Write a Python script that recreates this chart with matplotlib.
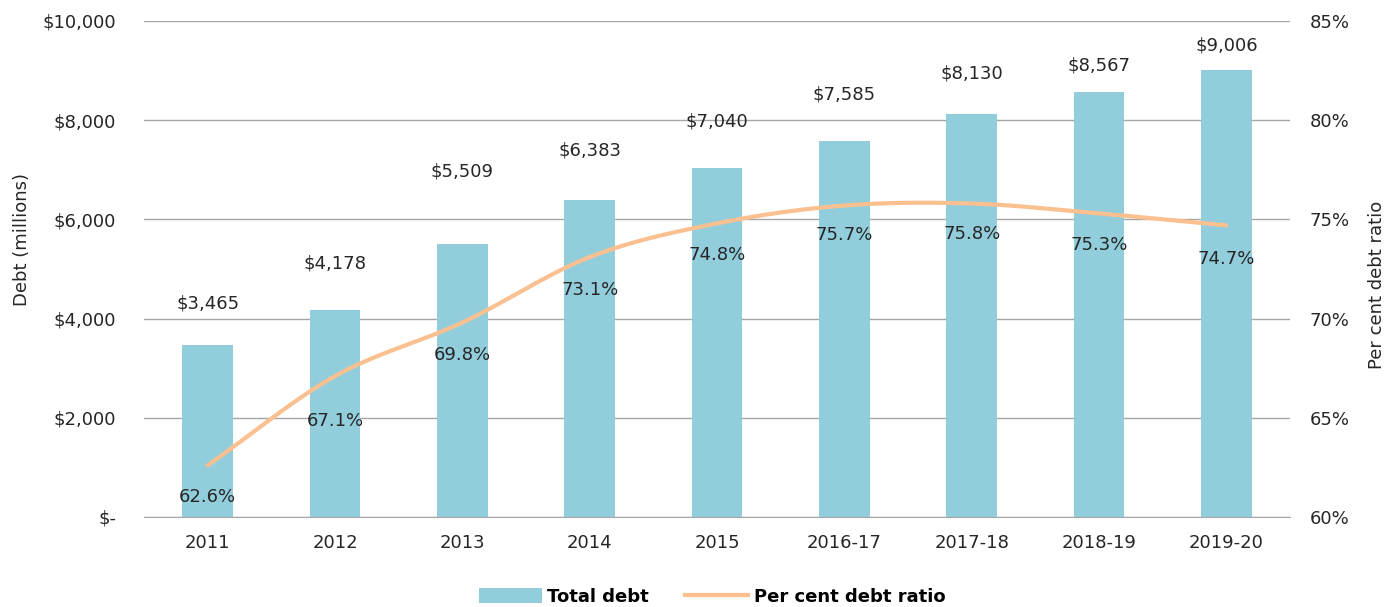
import matplotlib
matplotlib.use("Agg")
import matplotlib.pyplot as plt
import numpy as np
from matplotlib.patches import Patch
from matplotlib.lines import Line2D

plt.rcParams['font.family'] = ['DejaVu Sans']

categories = ["2011", "2012", "2013", "2014", "2015", "2016-17", "2017-18", "2018-19", "2019-20"]
total_debt = [3465, 4178, 5509, 6383, 7040, 7585, 8130, 8567, 9006]
debt_ratio = [62.6, 67.1, 69.8, 73.1, 74.8, 75.7, 75.8, 75.3, 74.7]

# label layout offsets (points)
bar_label_off = [30, 33, 52, 36, 33, 33, 29, 19, 18]
ratio_label_off = [-23, -32, -23, -24, -23, -21, -22, -23, -24]

bar_color = "#92CDDC"
line_color = "#FAC090"
text_color = "#262626"
grid_color = "#A6A6A6"
FS = 13

fig = plt.figure(figsize=(13.89, 6.07), dpi=100)
ax = fig.add_axes([144/1389, 1-517/607, (1290-144)/1389, (517-21)/607])
ax2 = ax.twinx()

x = np.arange(len(categories))
ax.bar(x, total_debt, width=0.4, color=bar_color, zorder=2)
ax.set_xlim(-0.5, len(categories)-0.5)
ax.set_ylim(0, 10000)
ax.set_yticks(np.arange(0, 10001, 2000))
ax.set_yticklabels(["$-" if v == 0 else "${:,}".format(v) for v in range(0, 10001, 2000)])
ax.set_xticks(x)
ax.set_xticklabels(categories)
ax.grid(axis='y', color=grid_color, linewidth=1, zorder=0)
ax.set_axisbelow(True)
for s in ['top', 'right', 'left']:
    ax.spines[s].set_visible(False)
ax.spines['bottom'].set_color(grid_color)
ax.tick_params(axis='both', length=0, labelsize=FS, colors=text_color)
ax.tick_params(axis='y', pad=20)
ax.tick_params(axis='x', pad=12)
ax.set_ylabel("Debt (millions)", fontsize=FS, color=text_color, va='center')
ax.yaxis.set_label_coords(-(144-22)/1146, (517-240)/496)

for xi, v, off in zip(x, total_debt, bar_label_off):
    ax.annotate("${:,}".format(v), (xi, v), xytext=(0, off), textcoords='offset points',
                ha='center', va='center', fontsize=FS, color=text_color)

# smoothed line (Catmull-Rom through the data points)
def catmull(xs, ys, n=30):
    xs = np.asarray(xs, float); ys = np.asarray(ys, float)
    px = np.concatenate([[2*xs[0]-xs[1]], xs, [2*xs[-1]-xs[-2]]])
    py = np.concatenate([[2*ys[0]-ys[1]], ys, [2*ys[-1]-ys[-2]]])
    ox, oy = [], []
    for i in range(1, len(px)-2):
        t = np.linspace(0, 1, n, endpoint=False)
        for arr, out in ((px, ox), (py, oy)):
            p0, p1, p2, p3 = arr[i-1], arr[i], arr[i+1], arr[i+2]
            out.extend(0.5*((2*p1) + (-p0+p2)*t + (2*p0-5*p1+4*p2-p3)*t**2 + (-p0+3*p1-3*p2+p3)*t**3))
    ox.append(xs[-1]); oy.append(ys[-1])
    return np.array(ox), np.array(oy)

sx, sy = catmull(x, debt_ratio)
ax2.plot(sx, sy, color=line_color, linewidth=3, solid_capstyle='round', zorder=3)
ax2.set_ylim(60, 85)
ax2.set_yticks(np.arange(60, 86, 5))
ax2.set_yticklabels(["{}%".format(v) for v in range(60, 86, 5)])
for s in ax2.spines.values():
    s.set_visible(False)
ax2.tick_params(axis='y', length=0, labelsize=FS, colors=text_color, pad=14)
ax2.set_ylabel("Per cent debt ratio", fontsize=FS, color=text_color, va='center')
ax2.yaxis.set_label_coords(1 + (1377-1290)/1146, (517-285)/496)

for xi, v, off in zip(x, debt_ratio, ratio_label_off):
    ax2.annotate("{:.1f}%".format(v), (xi, v), xytext=(0, off), textcoords='offset points',
                 ha='center', va='center', fontsize=FS, color=text_color)

handles = [Patch(facecolor=bar_color, edgecolor='none'),
           Line2D([0], [0], color=line_color, linewidth=3)]
fig.legend(handles, ["Total debt", "Per cent debt ratio"], loc='center',
           bbox_to_anchor=(712/1389, 1-597/607), ncol=2, frameon=False,
           prop={'size': FS, 'weight': 'bold'}, handlelength=3.5, handleheight=0.9,
           columnspacing=2.0, handletextpad=0.3)

fig.savefig("out.png", dpi=100)
